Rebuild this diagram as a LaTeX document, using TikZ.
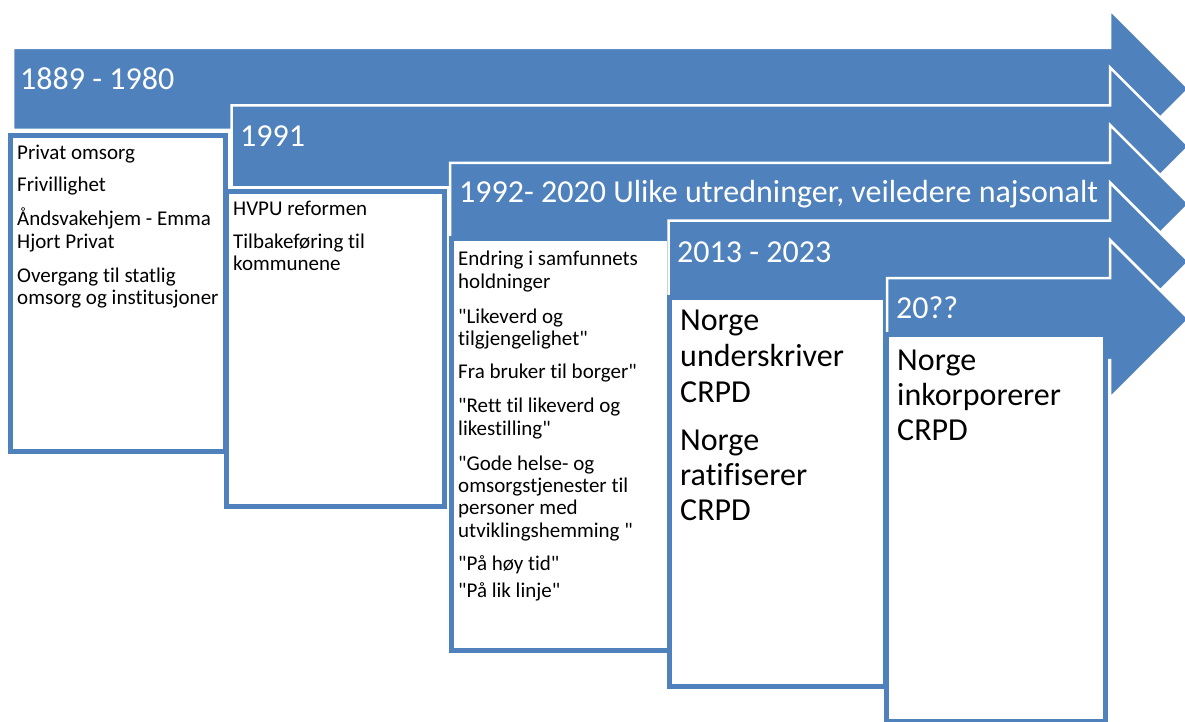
\documentclass[tikz,border=0pt]{standalone}
\usepackage{fontspec}
\setmainfont{Carlito}[Ligatures={TeXOff,CommonOff}]
\definecolor{accblue}{HTML}{4F81BD}
\begin{document}
\begin{tikzpicture}[x=1pt,y=-1pt,
  arrowshape/.style={fill=accblue,draw=white,line width=2.5pt,line join=miter},
  boxshape/.style={fill=white,draw=accblue,line width=5pt},
  headtext/.style={text=white,font=\fontsize{32}{35}\selectfont,anchor=base west,inner sep=0pt},
  smalltext/.style={text=black,font=\fontsize{21}{23}\selectfont,anchor=base west,inner sep=0pt},
  bigtext/.style={text=black,font=\fontsize{32}{35}\selectfont,anchor=base west,inner sep=0pt}]
\useasboundingbox (0,0) rectangle (1185,722);
\clip (0,0) rectangle (1185,722);
\newcommand{\tlarrow}[1]{%
  \pgfmathsetmacro{\L}{13+218.5*#1}%
  \pgfmathsetmacro{\T}{48+57.5*#1}%
  \pgfmathsetmacro{\B}{\T+82}%
  \pgfmathsetmacro{\HT}{\T-38}%
  \pgfmathsetmacro{\HB}{\B+38}%
  \pgfmathsetmacro{\TP}{\T+41}%
  \draw[arrowshape] (\L,\T) -- (1110,\T) -- (1110,\HT) -- (1189,\TP) -- (1110,\HB) -- (1110,\B) -- (\L,\B) -- cycle;}
% ---- stage 1
\tlarrow{0}
\node[headtext] (h1) at (20,90) {1889 - 1980};
\draw[boxshape] (10,135.5) rectangle (225,451.5);
\foreach \y/\t [count=\i] in {160/Privat omsorg,192/Frivillighet,225/Åndsvakehjem - Emma,248/Hjort Privat,282/Overgang til statlig,304/omsorg og institusjoner}
  \node[smalltext] (a\i) at (17,\y) {\t};
% ---- stage 2
\tlarrow{1}
\node[headtext] (h2) at (240,147) {1991};
\draw[boxshape] (226.5,191.5) rectangle (444.5,506.5);
\foreach \y/\t [count=\i] in {215/HVPU reformen,248/Tilbakeføring til,270/kommunene}
  \node[smalltext] (b\i) at (233,\y) {\t};
% ---- stage 3
\tlarrow{2}
\node[headtext] (h3) at (459,203) {1992- 2020 Ulike utredninger, veiledere najsonalt};
\draw[boxshape] (451,238.5) rectangle (669,650.5);
\foreach \y/\t [count=\i] in {265/Endring i samfunnets,288/holdninger,323/"Likeverd og,345/tilgjengelighet",378/Fra bruker til borger",412/"Rett til likeverd og,435/likestilling",470/"Gode helse- og,492/omsorgstjenester til,514/personer med,537/utviklingshemming ",570/"På høy tid",597/"På lik linje"}
  \node[smalltext] (c\i) at (458,\y) {\t};
% ---- stage 4
\tlarrow{3}
\node[headtext] (h4) at (677,262) {2013 - 2023};
\draw[boxshape] (669.5,297) rectangle (885,686.5);
\foreach \y/\t [count=\i] in {330/Norge,366.5/underskriver,402/CRPD,450/Norge,485/ratifiserer,520/CRPD}
  \node[bigtext] (d\i) at (680,\y) {\t};
% ---- stage 5
\tlarrow{4}
\node[headtext] (h5) at (896,318) {20??};
\draw[boxshape] (886.5,334.5) rectangle (1105.5,721);
\foreach \y/\t [count=\i] in {370/Norge,405/inkorporerer,440/CRPD}
  \node[bigtext] (e\i) at (897,\y) {\t};
\end{tikzpicture}
\end{document}
